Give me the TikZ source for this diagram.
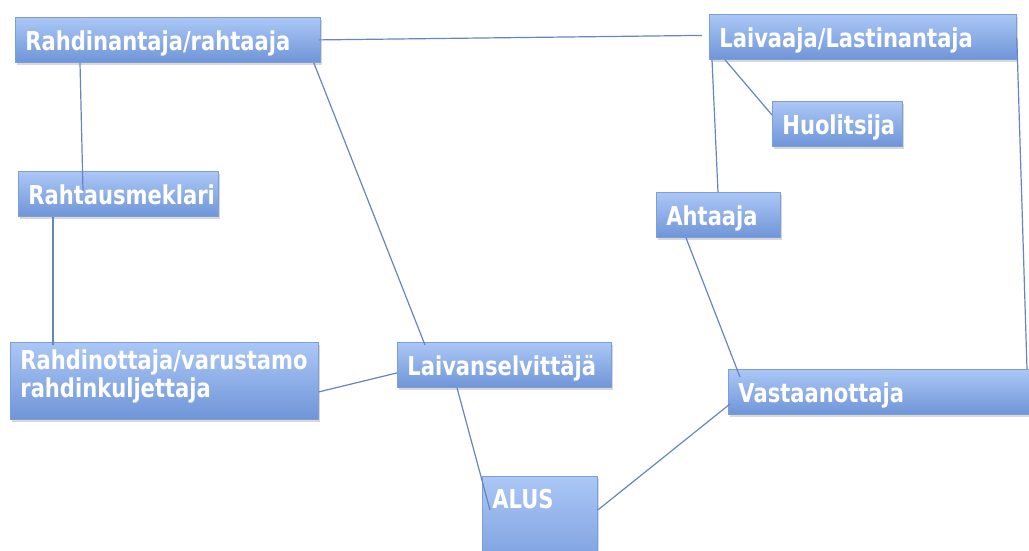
\documentclass[tikz,border=0pt]{standalone}
\usepackage{fontspec}
\setmainfont{DejaVu Sans}[FakeStretch=0.81]
\usepackage{xcolor}
\usetikzlibrary{shadows}
\definecolor{boxtop}{HTML}{ABC7F6}
\definecolor{boxbot}{HTML}{6F95D8}
\definecolor{boxrim}{HTML}{7C9EDA}
\definecolor{linkcol}{HTML}{6785C0}
\tikzset{
  rolebox/.style={draw=boxrim, line width=0.8pt, top color=boxtop, bottom color=boxbot,
    anchor=north west, inner xsep=10pt, inner ysep=0pt, align=left,
    text height=33pt, text depth=12pt, text=white,
    font=\bfseries\fontsize{26}{28.5}\selectfont,
    drop shadow={shadow xshift=2pt, shadow yshift=-3pt, opacity=0.3}},
  link/.style={draw=linkcol, line width=1.2pt}
}
\begin{document}
\begin{tikzpicture}[x=1pt,y=1pt]
		\clip (0,0) rectangle (1029,-550);
		\fill[white] (0,0) rectangle (1029,-550);
		\node[rolebox, text width=285pt] (rahtaaja) at (15,-17) {Rahdinantaja/rahtaaja};
		\node[rolebox, text width=287pt] (laivaaja) at (709,-14) {Laivaaja/Lastinantaja};
		\node[rolebox, text width=110pt] (huolitsija) at (772,-101) {Huolitsija};
		\node[rolebox, text width=180pt] (meklari) at (18,-171) {Rahtausmeklari};
		\node[rolebox, text width=104pt] (ahtaaja) at (656,-192) {Ahtaaja};
		\node[rolebox, text width=288pt, text height=27pt, text depth=50pt] (varustamo) at (10,-342) {Rahdinottaja/varustamo\\rahdinkuljettaja};
		\node[rolebox, text width=194pt] (selvittaja) at (397,-342) {Laivanselvittäjä};
		\node[rolebox, text width=310pt] (vastaanottaja) at (728,-369) {Vastaanottaja};
		\node[rolebox, text width=95pt, text height=32pt, text depth=80pt] (alus) at (482,-476) {ALUS};
		\draw[link] ([xshift=-2pt]rahtaaja.east) -- ([xshift=-7pt,yshift=1.5pt]laivaaja.west);
		\draw[link] ([xshift=65pt]rahtaaja.south west) -- ([xshift=65pt,yshift=-20pt]meklari.north west);
		\draw[link] ([xshift=35pt]meklari.south west) -- ([xshift=43pt,yshift=-3pt]varustamo.north west);
		\draw[link] ([xshift=-7pt]rahtaaja.south east) -- ([xshift=28pt,yshift=-3pt]selvittaja.north west);
		\draw[link] ([yshift=-11pt]varustamo.east) -- ([yshift=-8pt]selvittaja.west);
		\draw[link] ([xshift=60pt]selvittaja.south west) -- ([xshift=8pt,yshift=-34pt]alus.north west);
		\draw[link] ([yshift=-34pt]alus.north east) -- ([xshift=2pt,yshift=-35pt]vastaanottaja.north west);
		\draw[link] ([xshift=3pt]laivaaja.south west) -- ([xshift=62pt]ahtaaja.north west);
		\draw[link] ([xshift=16pt]laivaaja.south west) -- ([yshift=-14pt]huolitsija.north west);
		\draw[link] ([yshift=-1pt]laivaaja.east) -- ([xshift=299pt]vastaanottaja.north west);
		\draw[link] ([xshift=30pt]ahtaaja.south west) -- ([xshift=12pt,yshift=-8pt]vastaanottaja.north west);
	\end{tikzpicture}
\end{document}
